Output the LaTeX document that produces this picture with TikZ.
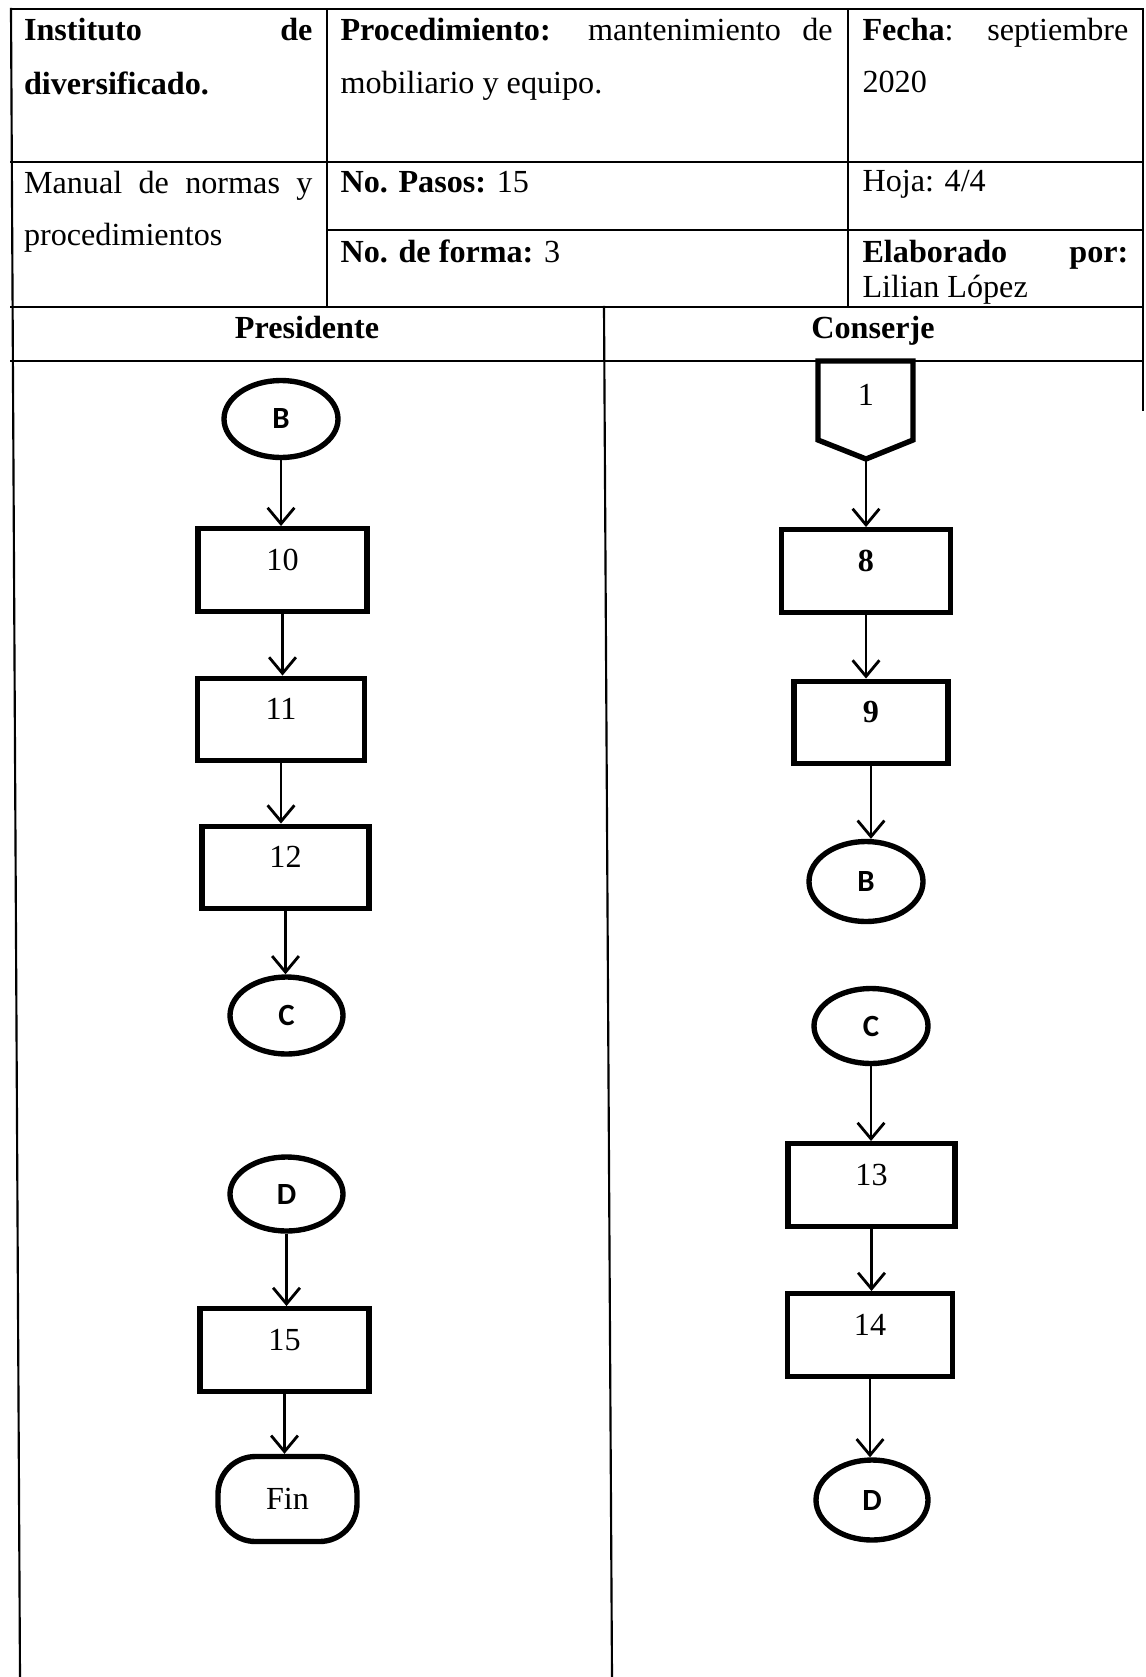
\documentclass[tikz,border=0pt]{standalone}
\usepackage{fontspec}
\setmainfont{Liberation Serif}
\newfontfamily\calfont{Carlito}
\usetikzlibrary{shapes.geometric,arrows.meta}
\begin{document}
\begin{tikzpicture}[x=0.3731pt,y=-0.3731pt,
  tbl/.style={line width=0.8pt, line cap=rect},
  stepbox/.style={draw, line width=2pt, rectangle, minimum width=#1*0.3731pt,
    inner xsep=0pt, inner ysep=0pt, text height=15.4pt, text depth=15.4pt,
    font=\fontsize{12}{14}\selectfont},
  conn/.style 2 args={draw, ellipse, line width=2pt, minimum width=#1*0.3731pt,
    minimum height=#2*0.3731pt, inner sep=0pt,
    font=\calfont\bfseries\fontsize{11.5}{13}\selectfont},
  endbox/.style={draw, line width=2pt, rectangle, rounded corners=14pt,
    minimum width=139*0.3731pt, minimum height=85*0.3731pt, inner sep=0pt,
    font=\fontsize{12}{14}\selectfont},
  flow/.style={line width=1.05pt, -{Straight Barb[length=6pt,width=10pt,line width=1.05pt]}},
  txt/.style={inner sep=0pt, anchor=base west, font=\fontsize{12}{14}\selectfont},
  ctxt/.style={inner sep=0pt, anchor=base, font=\fontsize{12}{14}\selectfont\bfseries}
]
\useasboundingbox[fill=white] (0,0) rectangle (1145,1677);

% ---- table grid ----
\draw[tbl] (11,9) -- (1143,9);
\draw[tbl] (11,9) -- (20,1677);
\draw[tbl] (1143,9) -- (1143,410);
\draw[tbl] (327,9) -- (327,307);
\draw[tbl] (848,9) -- (848,307);
\draw[tbl] (11,162) -- (1143,162);
\draw[tbl] (327,230) -- (1143,230);
\draw[tbl] (11,307) -- (1143,307);
\draw[tbl] (11,361) -- (1143,361);
\draw[tbl] (604,307) -- (612,1677);

% ---- header texts ----
\node[txt] (h1a) at (23.5,40) {\makebox[107.6pt][s]{\bfseries Instituto de}};
\node[txt] (h1b) at (23.5,94) {\bfseries diversificado.};
\node[txt] (h2a) at (340,40) {\makebox[183.6pt][s]{\textbf{Procedimiento:} mantenimiento de}};
\node[txt] (h2b) at (340,93) {mobiliario y equipo.};
\node[txt] (h3a) at (862,40) {\makebox[99.2pt][s]{\textbf{Fecha}: septiembre}};
\node[txt] (h3b) at (862,92) {2020};
\node[txt] (m1a) at (23.5,193) {\makebox[107.6pt][s]{Manual de normas y}};
\node[txt] (m1b) at (23.5,245) {procedimientos};
\node[txt] (m2) at (340,192) {\textbf{No. Pasos:} 15};
\node[txt] (m3) at (862,191) {Hoja: 4/4};
\node[txt] (f2) at (340,262) {\textbf{No. de forma:} 3};
\node[txt] (f3a) at (862,262) {\makebox[99.2pt][s]{\bfseries Elaborado por:}};
\node[txt] (f3b) at (862,297) {Lilian López};
\node[ctxt] (lane1) at (307,338) {Presidente};
\node[ctxt] (lane2) at (873,338) {Conserje};

% ---- Presidente lane ----
\node[conn={114}{77}] (b1) at (281,419) {B};
\node[stepbox=169] (s10) at (282.5,570) {10};
\node[stepbox=167] (s11) at (281,719.5) {11};
\node[stepbox=167] (s12) at (285.5,867.5) {12};
\node[conn={113}{77}] (c1) at (286.5,1015.5) {C};
\node[conn={113}{74}] (d1) at (286.5,1194) {D};
\node[stepbox=169] (s15) at (284.5,1350) {15};
\node[endbox] (fin) at (287.5,1499) {Fin};

\draw[flow] (b1.south) -- (b1.south |- s10.north);
\draw[flow] (s10.south) -- (s10.south |- s11.north);
\draw[flow] (s11.south) -- (s11.south |- s12.north);
\draw[flow] (s12.south) -- (s12.south |- c1.north);
\draw[flow] (d1.south) -- (d1.south |- s15.north);
\draw[flow] (s15.south) -- (s15.south |- fin.north);

% ---- Conserje lane ----
\draw[line width=2pt, line join=miter] (818,361) -- (913,361) -- (913,440) -- (866,459) -- (818,440) -- cycle;
\node[inner sep=0pt, font=\fontsize{12}{14}\selectfont] (p1) at (866,395) {1};
\coordinate (p1tip) at (866,459);
\node[stepbox=169] (s8) at (866,571) {\textbf{8}};
\node[stepbox=154] (s9) at (871,722.5) {\textbf{9}};
\node[conn={114}{80}] (b2) at (866,881.5) {B};
\node[conn={114}{75}] (c2) at (871,1026) {C};
\node[stepbox=167] (s13) at (871.5,1185) {13};
\node[stepbox=165] (s14) at (870,1335) {14};
\node[conn={112}{80}] (d2) at (872,1500) {D};

\draw[flow] (p1tip) -- (p1tip |- s8.north);
\draw[flow] (s8.south) -- (s8.south |- s9.north);
\draw[flow] (s9.south) -- (s9.south |- b2.north);
\draw[flow] (c2.south) -- (c2.south |- s13.north);
\draw[flow] (s13.south) -- (s13.south |- s14.north);
\draw[flow] (s14.south) -- (s14.south |- d2.north);
\end{tikzpicture}
\end{document}
